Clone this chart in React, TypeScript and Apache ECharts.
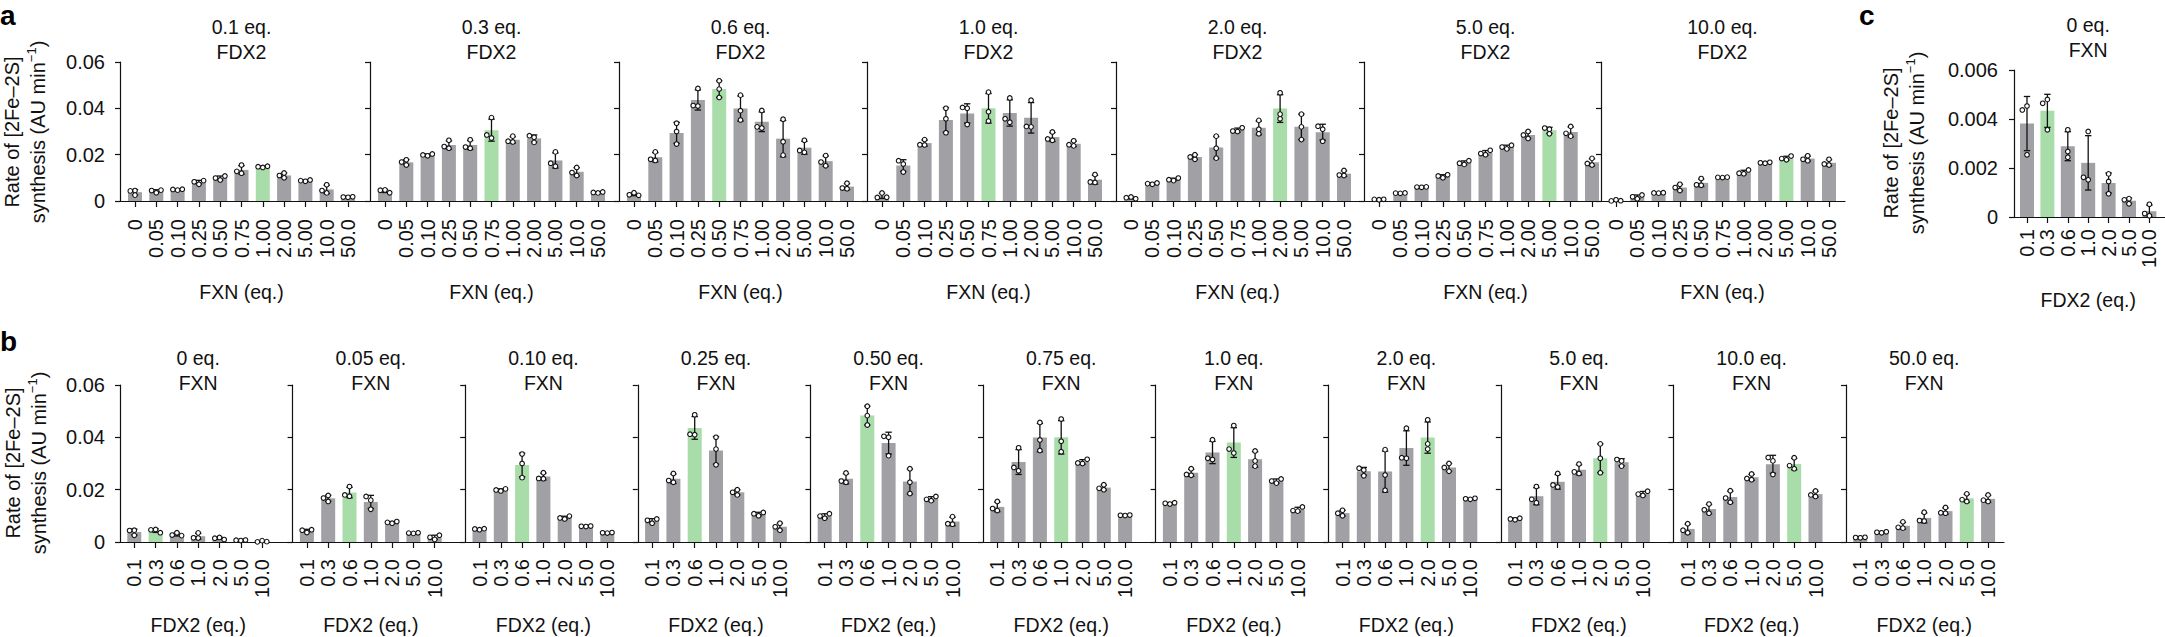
import { useEffect, useRef } from 'react';
import * as echarts from 'echarts';

const FXN_LEVELS = ['0', '0.05', '0.10', '0.25', '0.50', '0.75', '1.00', '2.00', '5.00', '10.0', '50.0'];
const FDX2_LEVELS = ['0.1', '0.3', '0.6', '1.0', '2.0', '5.0', '10.0'];
const FDX2_TITLES = ['0.1 eq.', '0.3 eq.', '0.6 eq.', '1.0 eq.', '2.0 eq.', '5.0 eq.', '10.0 eq.'];
const FXN_TITLES = ['0 eq.', '0.05 eq.', '0.10 eq.', '0.25 eq.', '0.50 eq.', '0.75 eq.', '1.0 eq.', '2.0 eq.', '5.0 eq.', '10.0 eq.', '50.0 eq.'];

// three replicate rates (AU min-1) for each FXN level, one list per FDX2 level
const FDX2_0_1 = [
    [0.00453, 0.00437, 0.00254], [0.0036, 0.0045, 0.0047], [0.0047, 0.005, 0.0051], [0.0072, 0.0083, 0.0088],
    [0.0091, 0.0099, 0.0108], [0.012, 0.0128, 0.0155], [0.0145, 0.0148, 0.015], [0.01, 0.011, 0.0121],
    [0.0085, 0.0088, 0.0091], [0.0035, 0.0045, 0.007], [0.0016, 0.0017, 0.0018],
];
const FDX2_0_3 = [
    [0.0048, 0.00464, 0.00356], [0.0155, 0.0168, 0.0178], [0.0195, 0.0199, 0.0203], [0.0228, 0.0235, 0.0262],
    [0.0228, 0.0233, 0.0264], [0.0272, 0.0285, 0.036], [0.0255, 0.0258, 0.028], [0.0253, 0.0275, 0.0282],
    [0.015, 0.0163, 0.0212], [0.011, 0.0123, 0.0145], [0.0035, 0.0037, 0.0039],
];
const FDX2_0_6 = [
    [0.00356, 0.00267, 0.00244], [0.0175, 0.018, 0.0212], [0.0246, 0.03, 0.0336], [0.041, 0.0412, 0.0486],
    [0.0447, 0.0483, 0.0519], [0.035, 0.039, 0.0457], [0.0315, 0.032, 0.0391], [0.0198, 0.0256, 0.0353],
    [0.021, 0.0218, 0.0262], [0.0152, 0.0168, 0.0196], [0.0053, 0.0056, 0.0077],
];
const FDX2_1_0 = [
    [0.00349, 0.00152, 0.00162], [0.0125, 0.016, 0.0174], [0.0242, 0.0243, 0.0265], [0.0295, 0.0355, 0.04],
    [0.033, 0.04, 0.0404], [0.0345, 0.0385, 0.047], [0.034, 0.0355, 0.0445], [0.032, 0.0322, 0.0435],
    [0.0262, 0.0268, 0.0298], [0.0238, 0.0243, 0.026], [0.008, 0.0082, 0.0114],
];
const FDX2_2_0 = [
    [0.00176, 0.00145, 0.00095], [0.0072, 0.0075, 0.0078], [0.0088, 0.0092, 0.0099], [0.018, 0.019, 0.02],
    [0.0185, 0.0228, 0.028], [0.03, 0.0302, 0.0316], [0.029, 0.031, 0.0348], [0.0355, 0.0375, 0.0467],
    [0.0265, 0.032, 0.0375], [0.0258, 0.031, 0.0323], [0.011, 0.0112, 0.0132],
];
const FDX2_5_0 = [
    [0.00054, 0.0007, 0.00075], [0.0033, 0.0034, 0.0035], [0.0059, 0.006, 0.0061], [0.01, 0.0108, 0.0113],
    [0.0158, 0.0163, 0.0174], [0.02, 0.0205, 0.0219], [0.0225, 0.0233, 0.0241], [0.027, 0.0285, 0.03],
    [0.029, 0.031, 0.0315], [0.028, 0.0292, 0.0322], [0.0155, 0.0162, 0.0184],
];
const FDX2_10_0 = [
    [0.00052, 0.00005, 0.00014], [0.001, 0.0018, 0.0026], [0.0034, 0.0035, 0.0036], [0.0045, 0.0058, 0.0072],
    [0.0068, 0.007, 0.0097], [0.0101, 0.0102, 0.0103], [0.0118, 0.012, 0.0134], [0.0163, 0.0165, 0.0167],
    [0.0178, 0.0183, 0.0194], [0.0174, 0.018, 0.0195], [0.0155, 0.016, 0.018],
];
const RATES = [FDX2_0_1, FDX2_0_3, FDX2_0_6, FDX2_1_0, FDX2_2_0, FDX2_5_0, FDX2_10_0];

// index of the green (highest) bar in each panel
const HIGHLIGHT_A = [6, 5, 4, 5, 7, 8, 8];
const HIGHLIGHT_B = [1, 2, 2, 2, 2, 3, 3, 4, 4, 5, 5];
const HIGHLIGHT_C = 1;

const Y_MAX_AB = 0.06;
const Y_STEP_AB = 0.02;
const Y_MAX_C = 0.006;
const Y_STEP_C = 0.002;

const SANS = "'Liberation Sans', Arial, Helvetica, sans-serif";
const INK = '#111';
const GREY = '#a1a1a5';
const GREEN = '#a8dca9';
const DOT = 2.3;
const CAP = 3.2;
const SWARM = [0, -4.7, 4.7, -9.4, 9.4];

// layout (px)
const ROW_A_AXES = [120, 370, 619, 867, 1116, 1364, 1601];
const ROW_A_END = 1845;
const ROW_B_FIRST = 120;
const ROW_B_STEP = 172.6;
const ROW_B_END = 2004;
const C_AXIS = 2014;

interface Panel {
    axisX: number;
    lineEnd: number;
    firstCenter: number;
    band: number;
    top: number;
    height: number;
    categories: string[];
    groups: number[][];
    highlight: number;
    yMax: number;
    yStep: number;
    yLabels: boolean;
    labelMargin: number;
    xName: string;
    nameGap: number;
    title: string;
    titleTop: number;
}

function stats(reps: number[]) {
    const mean = reps.reduce((s, v) => s + v, 0) / reps.length;
    const sd = Math.sqrt(reps.reduce((s, v) => s + (v - mean) ** 2, 0) / (reps.length - 1));
    return { mean, sd };
}

const renderGroup = (_params: any, api: any) => {
    const i = api.value(0);
    const mean = api.value(1);
    const sd = api.value(2);
    const cx = api.coord([i, mean])[0];
    const yHi = api.coord([i, mean + sd])[1];
    const yLo = api.coord([i, Math.max(0, mean - sd)])[1];
    const line = { stroke: INK, lineWidth: 1.3 };
    const children: any[] = [
        { type: 'line', shape: { x1: cx, y1: yHi, x2: cx, y2: yLo }, style: line },
        { type: 'line', shape: { x1: cx - CAP, y1: yHi, x2: cx + CAP, y2: yHi }, style: line },
        { type: 'line', shape: { x1: cx - CAP, y1: yLo, x2: cx + CAP, y2: yLo }, style: line },
    ];
    const placed: { o: number; y: number }[] = [];
    [3, 4, 5].forEach((d) => {
        const py = api.coord([i, api.value(d)])[1];
        const off = SWARM.find((o) => placed.every((q) => Math.hypot(o - q.o, py - q.y) >= DOT * 2)) ?? 0;
        placed.push({ o: off, y: py });
        children.push({
            type: 'circle',
            shape: { cx: cx + off, cy: py, r: DOT },
            style: { fill: '#fff', stroke: INK, lineWidth: 1.1 },
        });
    });
    return { type: 'group', children };
};

function buildPanels(): Panel[] {
    const panels: Panel[] = [];
    ROW_A_AXES.forEach((ax, k) => {
        panels.push({
            axisX: ax,
            lineEnd: k < ROW_A_AXES.length - 1 ? ROW_A_AXES[k + 1] : ROW_A_END,
            firstCenter: ax + 15,
            band: 21.3,
            top: 62,
            height: 139,
            categories: FXN_LEVELS,
            groups: RATES[k],
            highlight: HIGHLIGHT_A[k],
            yMax: Y_MAX_AB,
            yStep: Y_STEP_AB,
            yLabels: k === 0,
            labelMargin: 18,
            xName: 'FXN (eq.)',
            nameGap: 81,
            title: FDX2_TITLES[k] + '\nFDX2',
            titleTop: 14,
        });
    });
    FXN_LEVELS.forEach((_, k) => {
        const ax = ROW_B_FIRST + ROW_B_STEP * k;
        panels.push({
            axisX: ax,
            lineEnd: k < FXN_LEVELS.length - 1 ? ax + ROW_B_STEP : ROW_B_END,
            firstCenter: ax + 14.3,
            band: 21.3,
            top: 385,
            height: 157,
            categories: FDX2_LEVELS,
            groups: RATES.map((r) => r[k]),
            highlight: HIGHLIGHT_B[k],
            yMax: Y_MAX_AB,
            yStep: Y_STEP_AB,
            yLabels: k === 0,
            labelMargin: 17,
            xName: 'FDX2 (eq.)',
            nameGap: 73,
            title: FXN_TITLES[k] + '\nFXN',
            titleTop: 345,
        });
    });
    panels.push({
        axisX: C_AXIS,
        lineEnd: 2165,
        firstCenter: C_AXIS + 13,
        band: 20.4,
        top: 70,
        height: 147,
        categories: FDX2_LEVELS,
        groups: RATES.map((r) => r[0]),
        highlight: HIGHLIGHT_C,
        yMax: Y_MAX_C,
        yStep: Y_STEP_C,
        yLabels: true,
        labelMargin: 12,
        xName: 'FDX2 (eq.)',
        nameGap: 73,
        title: '0 eq.\nFXN',
        titleTop: 12,
    });
    return panels;
}

function buildOption() {
    const grid: any[] = [];
    const xAxis: any[] = [];
    const yAxis: any[] = [];
    const series: any[] = [];
    const graphic: any[] = [];
    const axisLine = { show: true, lineStyle: { color: INK, width: 1.2 } };

    buildPanels().forEach((p) => {
        const n = p.categories.length;
        const catLeft = p.firstCenter - p.band / 2;
        const g = grid.length;
        grid.push({ left: p.axisX, top: p.top, width: p.lineEnd - p.axisX, height: p.height });
        grid.push({ left: catLeft, top: p.top, width: p.band * n, height: p.height });

        // frame: x baseline and the y axis
        xAxis.push({
            gridIndex: g,
            type: 'value',
            min: 0,
            max: 1,
            axisLine: { ...axisLine, onZero: false },
            axisTick: { show: false },
            axisLabel: { show: false },
            splitLine: { show: false },
        });
        yAxis.push({
            gridIndex: g,
            type: 'value',
            min: 0,
            max: p.yMax,
            interval: p.yStep,
            axisLine,
            axisTick: { show: true, length: 5, lineStyle: { color: INK, width: 1.2 } },
            axisLabel: {
                show: p.yLabels,
                margin: p.axisX === C_AXIS ? 16 : 15,
                color: INK,
                fontFamily: SANS,
                fontSize: 20,
            },
            splitLine: { show: false },
        });

        // categories carrying bars, ticks and labels
        xAxis.push({
            gridIndex: g + 1,
            type: 'category',
            data: p.categories,
            boundaryGap: true,
            axisLine: { show: false },
            axisTick: { show: true, alignWithLabel: true, interval: 0, length: 6, lineStyle: { color: INK, width: 1.2 } },
            axisLabel: { rotate: 90, interval: 0, margin: p.labelMargin, color: INK, fontFamily: SANS, fontSize: 20 },
            name: p.xName,
            nameLocation: 'middle',
            nameGap: p.nameGap,
            nameTextStyle: { color: INK, fontFamily: SANS, fontSize: 19.5 },
        });
        yAxis.push({ gridIndex: g + 1, type: 'value', min: 0, max: p.yMax, show: false });
        const xi = xAxis.length - 1;
        const yi = yAxis.length - 1;

        const st = p.groups.map(stats);
        series.push({
            type: 'bar',
            xAxisIndex: xi,
            yAxisIndex: yi,
            barWidth: 14,
            silent: true,
            data: st.map((s, i) => ({
                value: s.mean,
                itemStyle: { color: i === p.highlight ? GREEN : GREY },
            })),
        });
        series.push({
            type: 'custom',
            xAxisIndex: xi,
            yAxisIndex: yi,
            silent: true,
            z: 3,
            encode: { x: 0, y: 1 },
            renderItem: renderGroup,
            data: p.groups.map((reps, i) => [i, st[i].mean, st[i].sd, ...reps]),
        });

        graphic.push({
            type: 'text',
            x: catLeft + (p.band * n) / 2,
            y: p.titleTop,
            style: {
                text: p.title,
                fill: INK,
                fontFamily: SANS,
                fontSize: 19.5,
                lineHeight: 25,
                align: 'center',
                verticalAlign: 'top',
                textAlign: 'center',
                textVerticalAlign: 'top',
            },
        });
    });

    const yName = (x: number, y: number) => ({
        type: 'text',
        x,
        y,
        rotation: Math.PI / 2,
        style: {
            text: '{n|Rate of [2Fe–2S]}\n{n|synthesis (AU min}{s|−1}{n|)}',
            fill: INK,
            align: 'center',
            verticalAlign: 'middle',
            textAlign: 'center',
            textVerticalAlign: 'middle',
            rich: {
                n: { fontFamily: SANS, fontSize: 20, lineHeight: 26, fill: INK },
                s: { fontFamily: SANS, fontSize: 13, lineHeight: 14, verticalAlign: 'top', fill: INK },
            },
        },
    });
    graphic.push(yName(25, 132), yName(26, 463), yName(1904, 143));

    const letter = (text: string, x: number, y: number) => ({
        type: 'text',
        x,
        y,
        style: {
            text,
            fill: '#000',
            fontFamily: SANS,
            fontWeight: 'bold',
            fontSize: 28,
            align: 'left',
            verticalAlign: 'middle',
            textAlign: 'left',
            textVerticalAlign: 'middle',
        },
    });
    graphic.push(letter('a', 0, 15), letter('b', 0, 341), letter('c', 1859, 15));

    return { animation: false, grid, xAxis, yAxis, series, graphic };
}

export default function App() {
    const chartRef = useRef<HTMLDivElement>(null);

    useEffect(() => {
        if (!chartRef.current) return;
        document.body.style.margin = '0';
        const chart = echarts.init(chartRef.current, undefined, { renderer: 'svg' });
        chart.setOption(buildOption());
        return () => {
            chart.dispose();
        };
    }, []);

    return <div ref={chartRef} style={{ width: 2165, height: 637, background: '#fff' }} />;
}
